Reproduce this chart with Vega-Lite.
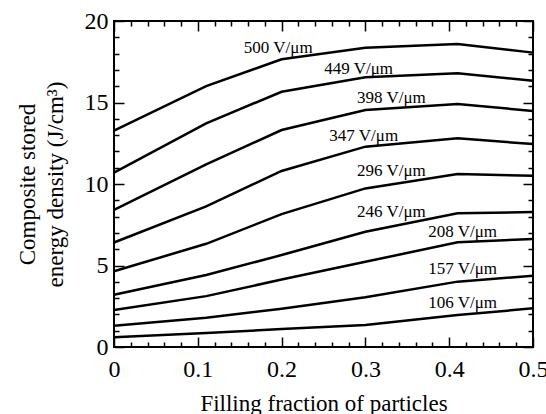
{
  "$schema": "https://vega.github.io/schema/vega-lite/v6.json",
  "autosize": "none",
  "width": 419,
  "height": 326,
  "padding": {"left": 114, "top": 21, "right": 13, "bottom": 67},
  "background": "white",
  "config": {
    "font": "Liberation Serif",
    "view": {"stroke": "black", "strokeWidth": 2},
    "axis": {"grid": false, "domain": false, "tickColor": "black", "tickWidth": 1.5, "labelColor": "black", "titleColor": "black", "labelFlush": false, "labelOverlap": false, "titleFontWeight": "normal", "labelFontSize": 24, "titleFontSize": 23}
  },
  "datasets": {
    "curves": [
      {"E": "500", "f": 0, "w": 13.27}, {"E": "500", "f": 0.11, "w": 16.01}, {"E": "500", "f": 0.2, "w": 17.65}, {"E": "500", "f": 0.3, "w": 18.36}, {"E": "500", "f": 0.41, "w": 18.59}, {"E": "500", "f": 0.5, "w": 18.06},
      {"E": "449", "f": 0, "w": 10.7}, {"E": "449", "f": 0.11, "w": 13.72}, {"E": "449", "f": 0.2, "w": 15.66}, {"E": "449", "f": 0.3, "w": 16.55}, {"E": "449", "f": 0.41, "w": 16.79}, {"E": "449", "f": 0.5, "w": 16.34},
      {"E": "398", "f": 0, "w": 8.42}, {"E": "398", "f": 0.11, "w": 11.2}, {"E": "398", "f": 0.2, "w": 13.31}, {"E": "398", "f": 0.3, "w": 14.54}, {"E": "398", "f": 0.41, "w": 14.91}, {"E": "398", "f": 0.5, "w": 14.48},
      {"E": "347", "f": 0, "w": 6.41}, {"E": "347", "f": 0.11, "w": 8.63}, {"E": "347", "f": 0.2, "w": 10.8}, {"E": "347", "f": 0.3, "w": 12.29}, {"E": "347", "f": 0.41, "w": 12.8}, {"E": "347", "f": 0.5, "w": 12.45},
      {"E": "296", "f": 0, "w": 4.65}, {"E": "296", "f": 0.11, "w": 6.33}, {"E": "296", "f": 0.2, "w": 8.15}, {"E": "296", "f": 0.3, "w": 9.73}, {"E": "296", "f": 0.41, "w": 10.61}, {"E": "296", "f": 0.5, "w": 10.51},
      {"E": "246", "f": 0, "w": 3.2}, {"E": "246", "f": 0.11, "w": 4.42}, {"E": "246", "f": 0.2, "w": 5.64}, {"E": "246", "f": 0.3, "w": 7.07}, {"E": "246", "f": 0.41, "w": 8.2}, {"E": "246", "f": 0.5, "w": 8.28},
      {"E": "208", "f": 0, "w": 2.27}, {"E": "208", "f": 0.11, "w": 3.12}, {"E": "208", "f": 0.2, "w": 4.14}, {"E": "208", "f": 0.3, "w": 5.23}, {"E": "208", "f": 0.41, "w": 6.42}, {"E": "208", "f": 0.5, "w": 6.63},
      {"E": "157", "f": 0, "w": 1.3}, {"E": "157", "f": 0.11, "w": 1.8}, {"E": "157", "f": 0.2, "w": 2.35}, {"E": "157", "f": 0.3, "w": 3.05}, {"E": "157", "f": 0.41, "w": 4.01}, {"E": "157", "f": 0.5, "w": 4.37},
      {"E": "106", "f": 0, "w": 0.6}, {"E": "106", "f": 0.11, "w": 0.86}, {"E": "106", "f": 0.2, "w": 1.1}, {"E": "106", "f": 0.3, "w": 1.35}, {"E": "106", "f": 0.41, "w": 1.96}, {"E": "106", "f": 0.5, "w": 2.37}
    ],
    "labels": [
      {"label": "500 V/μm", "lx": 0.196, "ly": 18.33},
      {"label": "449 V/μm", "lx": 0.292, "ly": 17.06},
      {"label": "398 V/μm", "lx": 0.331, "ly": 15.3},
      {"label": "347 V/μm", "lx": 0.298, "ly": 12.94},
      {"label": "296 V/μm", "lx": 0.331, "ly": 10.8},
      {"label": "246 V/μm", "lx": 0.331, "ly": 8.3},
      {"label": "208 V/μm", "lx": 0.416, "ly": 7.08},
      {"label": "157 V/μm", "lx": 0.416, "ly": 4.77},
      {"label": "106 V/μm", "lx": 0.416, "ly": 2.72}
    ]
  },
  "layer": [
    {
      "data": {"name": "curves"},
      "mark": {"type": "line", "color": "black", "strokeWidth": 2.5},
      "encoding": {
        "x": {"field": "f", "type": "quantitative", "scale": {"domain": [0, 0.5], "nice": false, "zero": false},
          "axis": {"orient": "bottom", "title": "Filling fraction of particles", "titlePadding": 6,
            "values": [0, 0.02, 0.04, 0.06, 0.08, 0.1, 0.12, 0.14, 0.16, 0.18, 0.2, 0.22, 0.24, 0.26, 0.28, 0.3, 0.32, 0.34, 0.36, 0.38, 0.4, 0.42, 0.44, 0.46, 0.48, 0.5],
            "labelExpr": "abs(datum.value*10-round(datum.value*10))<0.001 ? format(datum.value,'') : ''",
            "tickSize": {"condition": {"test": "abs(datum.value*10-round(datum.value*10))<0.001", "value": -10}, "value": -5},
            "labelPadding": 20}},
        "y": {"field": "w", "type": "quantitative", "scale": {"domain": [0, 20], "nice": false},
          "axis": {"orient": "left", "title": ["Composite stored", "energy density (J/cm³)"], "titlePadding": 17, "titleLineHeight": 28,
            "values": [0, 1, 2, 3, 4, 5, 6, 7, 8, 9, 10, 11, 12, 13, 14, 15, 16, 17, 18, 19, 20],
            "labelExpr": "datum.value % 5 === 0 ? format(datum.value,'') : ''",
            "tickSize": {"condition": {"test": "datum.value % 5 === 0", "value": -10}, "value": -5},
            "labelPadding": 16}},
        "detail": {"field": "E"}
      }
    },
    {
      "data": {"name": "labels"},
      "mark": {"type": "text", "fontSize": 17, "color": "black", "font": "Liberation Serif"},
      "encoding": {
        "x": {"field": "lx", "type": "quantitative", "axis": null},
        "y": {"field": "ly", "type": "quantitative", "axis": null},
        "text": {"field": "label"}
      }
    },
    {
      "data": {"name": "curves"},
      "mark": {"type": "line", "opacity": 0},
      "encoding": {
        "x": {"field": "f", "type": "quantitative",
          "axis": {"orient": "top", "title": null, "labels": false,
            "values": [0, 0.02, 0.04, 0.06, 0.08, 0.1, 0.12, 0.14, 0.16, 0.18, 0.2, 0.22, 0.24, 0.26, 0.28, 0.3, 0.32, 0.34, 0.36, 0.38, 0.4, 0.42, 0.44, 0.46, 0.48, 0.5],
            "tickSize": {"condition": {"test": "abs(datum.value*10-round(datum.value*10))<0.001", "value": -10}, "value": -5}}},
        "y": {"field": "w", "type": "quantitative",
          "axis": {"orient": "right", "title": null, "labels": false,
            "values": [0, 1, 2, 3, 4, 5, 6, 7, 8, 9, 10, 11, 12, 13, 14, 15, 16, 17, 18, 19, 20],
            "tickSize": {"condition": {"test": "datum.value % 5 === 0", "value": -10}, "value": -5}}},
        "detail": {"field": "E"}
      }
    }
  ],
  "resolve": {"axis": {"x": "independent", "y": "independent"}}
}
